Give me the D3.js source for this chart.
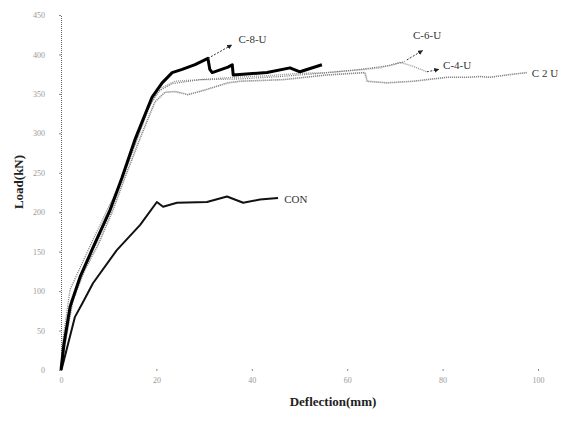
<!DOCTYPE html>
<html>
<head>
<meta charset="utf-8">
<script src="https://cdn.jsdelivr.net/npm/d3@7"></script>
<style>
  body { margin: 0; background: #fff; }
  text { font-family: "Liberation Serif", "DejaVu Serif", serif; }
</style>
</head>
<body>
<script>
// Data (deflection in mm, load in kN)
const xTicks = [0, 20, 40, 60, 80, 100];
const yTicks = [0, 50, 100, 150, 200, 250, 300, 350, 400, 450];

const c8x = [0, 0.6, 1.9, 4.0, 6.7, 10.3, 12.8, 15.5, 19.1, 21.2, 23.3, 25.4, 28.1, 30.8, 31.2, 31.7, 35.0, 35.9, 36.1, 43.2, 48.0, 50.1, 54.7];
const c8y = [0, 32, 80, 118, 155, 203, 244, 292, 346, 364, 377, 381, 387, 395, 381, 377, 384, 387, 374, 377, 383, 378, 387];

const c6x = [0, 0.4, 1.9, 6.7, 12.4, 15.1, 18.2, 20.3, 23.3, 29.1, 37.5, 45.9, 54.3, 62.7, 69.0, 72.1];
const c6y = [0, 38, 102, 165, 237, 279, 330, 353, 363, 368, 369, 372, 376, 381, 386, 391];

const c4x = [0, 0.6, 2.1, 4.4, 7.3, 10.5, 13.0, 15.9, 18.9, 21.2, 23.9, 29.1, 36.1, 43.2, 50.1, 55.8, 63.7, 66.9, 71.1, 73.8, 76.7];
const c4y = [0, 38, 89, 124, 159, 203, 244, 292, 339, 358, 366, 368, 371, 373, 376, 377, 381, 383, 390, 385, 378];

const c2x = [0, 1.0, 2.5, 5.0, 7.8, 10.9, 13.4, 16.6, 19.7, 21.8, 23.9, 26.6, 30.2, 35.0, 37.5, 46.5, 55.8, 63.7, 64.2, 68.3, 73.8, 80.9, 85.1, 87.8, 89.9, 93.5, 97.7];
const c2y = [0, 38, 89, 127, 159, 203, 244, 294, 340, 352, 353, 349, 355, 364, 366, 368, 374, 377, 366, 364, 366, 371, 371, 372, 371, 374, 377];

const conx = [0, 0.2, 2.9, 4.6, 6.7, 11.7, 16.6, 20.1, 21.4, 24.3, 30.6, 34.8, 38.2, 41.7, 45.5];
const cony = [0, 2.5, 67, 86, 110, 152, 184, 213, 207, 212, 213, 220, 212, 216, 218];

const width = 570, height = 421;
const svg = d3.select("body").append("svg")
    .attr("width", width)
    .attr("height", height);

const x = d3.scaleLinear().domain([0, 100]).range([61, 538]);
const y = d3.scaleLinear().domain([0, 450]).range([370, 15]);

// y axis: dotted vertical line
const yAxis = svg.append("g").attr("transform", "translate(61,0)")
    .call(d3.axisLeft(y).tickValues(yTicks).tickSize(2).tickPadding(14));
yAxis.select(".domain").attr("stroke", "#666").attr("stroke-dasharray", "1,1");
yAxis.selectAll(".tick line").attr("stroke", "#888");
yAxis.selectAll(".tick text").attr("fill", "#999").attr("font-size", 8);

// x axis: only ticks
const xAxis = svg.append("g").attr("transform", "translate(0,369)")
    .call(d3.axisBottom(x).tickValues(xTicks).tickSize(2).tickPadding(6));
xAxis.select(".domain").remove();
xAxis.selectAll(".tick line").attr("stroke", "#888");
xAxis.selectAll(".tick text").attr("fill", "#999").attr("font-size", 8);

const line = d3.line().x(d => x(d[0])).y(d => y(d[1]));
const zip = (a, b) => a.map((v, i) => [v, b[i]]);

const series = [
    { xs: c2x, ys: c2y, stroke: "#888", w: 1.6, dash: "1.2,0.8" },
    { xs: c4x, ys: c4y, stroke: "#999", w: 1.4, dash: "1,1" },
    { xs: c6x, ys: c6y, stroke: "#777", w: 1.3, dash: "1,1.2" },
    { xs: conx, ys: cony, stroke: "#111", w: 2, dash: null },
    { xs: c8x, ys: c8y, stroke: "#000", w: 3, dash: null }
];

series.forEach(s => {
    svg.append("path")
        .datum(zip(s.xs, s.ys))
        .attr("fill", "none")
        .attr("stroke", s.stroke)
        .attr("stroke-width", s.w)
        .attr("stroke-dasharray", s.dash)
        .attr("stroke-linejoin", "round")
        .attr("d", line);
});

// arrowhead
svg.append("defs").append("marker")
    .attr("id", "arr")
    .attr("viewBox", "0 0 10 10")
    .attr("refX", 9).attr("refY", 5)
    .attr("markerWidth", 5).attr("markerHeight", 5)
    .attr("orient", "auto")
    .append("path").attr("d", "M0,0L10,5L0,10z").attr("fill", "#222");

const arrows = [
    [[30.8, 395], [35.8, 412]],
    [[72.5, 393], [75.8, 405]],
    [[76.7, 378], [79.2, 381]]
];
arrows.forEach(a => {
    svg.append("line")
        .attr("x1", x(a[0][0])).attr("y1", y(a[0][1]))
        .attr("x2", x(a[1][0])).attr("y2", y(a[1][1]))
        .attr("stroke", "#333")
        .attr("stroke-width", 1)
        .attr("stroke-dasharray", "2,1.5")
        .attr("marker-end", "url(#arr)");
});

// series labels
const labels = [
    { t: "C-8-U", px: 37.2, py: 415 },
    { t: "C-6-U", px: 73.8, py: 419 },
    { t: "C-4-U", px: 80.1, py: 382 },
    { t: "C 2 U", px: 98.7, py: 372 },
    { t: "CON", px: 46.8, py: 212 }
];
svg.selectAll(".lbl").data(labels).enter().append("text")
    .attr("class", "lbl")
    .attr("x", d => x(d.px))
    .attr("y", d => y(d.py))
    .attr("font-size", 11)
    .attr("fill", "#333")
    .text(d => d.t);

// axis titles
svg.append("text")
    .attr("x", 333).attr("y", 406)
    .attr("text-anchor", "middle")
    .attr("font-size", 13).attr("font-weight", "bold")
    .attr("fill", "#222")
    .text("Deflection(mm)");

svg.append("text")
    .attr("transform", "translate(23,182) rotate(-90)")
    .attr("text-anchor", "middle")
    .attr("font-size", 13).attr("font-weight", "bold")
    .attr("fill", "#222")
    .text("Load(kN)");
</script>
</body>
</html>
